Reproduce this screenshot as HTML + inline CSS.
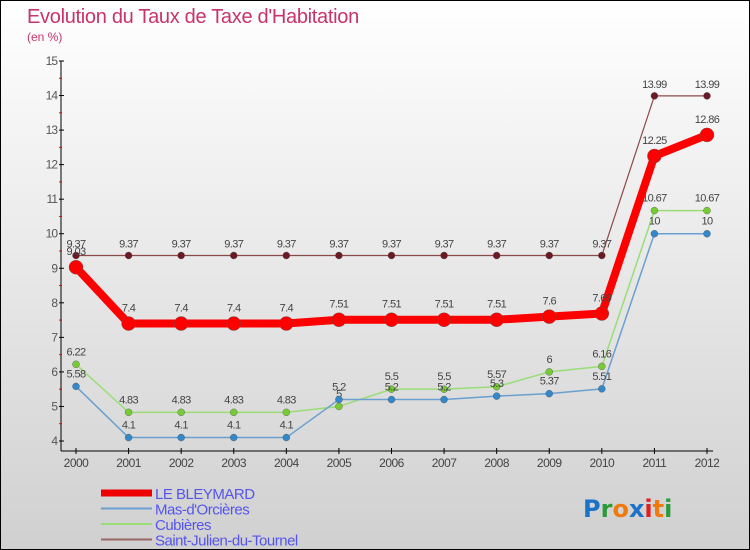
<!DOCTYPE html>
<html><head><meta charset="utf-8"><style>
body{margin:0;}
#wrap{width:750px;height:550px;position:relative;box-sizing:border-box;border:1px solid #000;background:linear-gradient(#ffffff,#d0d0d0);font-family:"Liberation Sans",sans-serif;overflow:hidden}
#title{position:absolute;left:26px;top:5px;font-size:20px;color:#c8336a;letter-spacing:-0.3px}
#unit{position:absolute;left:26px;top:29px;font-size:12px;color:#c8336a}
</style></head><body>
<div id="wrap">
<div id="title">Evolution du Taux de Taxe d'Habitation</div>
<div id="unit">(en %)</div>
<svg id="svg" width="750" height="550" style="position:absolute;left:0;top:0"></svg>
</div>
<script>
const years=["2000","2001","2002","2003","2004","2005","2006","2007","2008","2009","2010","2011","2012"];
const yTicks=[4,5,6,7,8,9,10,11,12,13,14,15];
const bleymard=[9.03,7.4,7.4,7.4,7.4,7.51,7.51,7.51,7.51,7.6,7.69,12.25,12.86];
const mas=[5.58,4.1,4.1,4.1,4.1,5.2,5.2,5.2,5.3,5.37,5.51,10,10];
const cubieres=[6.22,4.83,4.83,4.83,4.83,5,5.5,5.5,5.57,6,6.16,10.67,10.67];
const stjulien=[9.37,9.37,9.37,9.37,9.37,9.37,9.37,9.37,9.37,9.37,9.37,13.99,13.99];
const seriesNames=["LE BLEYMARD","Mas-d'Orcières","Cubières","Saint-Julien-du-Tournel"];

const svg=document.getElementById('svg');const NS='http://www.w3.org/2000/svg';
function X(i){return 75+i*(706-75)/(years.length-1);}
function Y(v){return 440-(v-4)*(380/11);}
function el(t,a,p){const e=document.createElementNS(NS,t);for(const k in a)e.setAttribute(k,a[k]);(p||svg).appendChild(e);return e;}
// axes
let ax=el('line',{x1:60,y1:60,x2:60,y2:450,stroke:'#000','stroke-width':1});

let axx=el('line',{x1:60,y1:450,x2:712,y2:450,stroke:'#000','stroke-width':1});

yTicks.forEach(v=>{const y=Y(v);
 el('line',{x1:58,y1:y,x2:63,y2:y,stroke:'#000'});
 if(v<15)el('line',{x1:58,y1:Y(v+0.5),x2:61,y2:Y(v+0.5),stroke:'#e00'});
 const t=el('text',{x:56,y:y+4,'text-anchor':'end','font-size':12,fill:'#555','letter-spacing':'-1'});t.textContent=v;
 });
years.forEach((yr,i)=>{const x=X(i);
 el('line',{x1:x,y1:447,x2:x,y2:453,stroke:'#000'});
 const t=el('text',{x:x,y:466,'text-anchor':'middle','font-size':12,fill:'#444','letter-spacing':'-0.5'});t.textContent=yr;
 });
function series(data,color,w,r,dot,name,labelDy){
 const g=el('g',{});
 el('polyline',{points:data.map((v,i)=>X(i)+','+Y(v)).join(' '),fill:'none',stroke:color,'stroke-width':w,'stroke-linejoin':'round'},g);
 data.forEach((v,i)=>{const c=el('circle',{cx:X(i),cy:Y(v),r:r,fill:dot,stroke:'#555','stroke-width':0.4},g);
  
  const t=el('text',{x:X(i),y:Y(v)+labelDy,'text-anchor':'middle','font-size':11,fill:'#444','letter-spacing':'-0.6'},g);t.textContent=v;});
}
series(stjulien,'#8b4a4a',1.2,3.5,'#6b1a24','series-saint-julien',-8);
series(cubieres,'#99dd77',1.5,3.5,'#77cc33','series-cubieres',-9);
series(mas,'#6a9fd0',1.5,3.5,'#3388cc','series-mas-dorcieres',-9);
series(bleymard,'#ff0000',8,7,'#ff0000','series-le-bleymard',-12);
// legend
const lg=el('g',{});
const lc=[['#ee0000',7],['#6a9fd0',2],['#99dd77',2],['#9b6666',2]];
seriesNames.forEach((n,i)=>{const y=492+i*15.5;
 el('line',{x1:100,y1:y,x2:151,y2:y,stroke:lc[i][0],'stroke-width':lc[i][1]},lg);
 const t=el('text',{x:154,y:y+6,'font-size':15,fill:'#5555ee','letter-spacing':'-0.5'},lg);t.textContent=n;
 });
// logo
const lo=el('text',{x:582,y:516,'font-size':24,'font-family':'DejaVu Sans, sans-serif','font-weight':'bold'});

[['P','#1a73c9'],['r','#2a9a3a'],['o','#f07a10'],['x','#1a73c9'],['i','#e02020'],['t','#f07a10'],['i','#2a9a3a']].forEach(([c,f])=>{const s=el('tspan',{fill:f},lo);s.textContent=c;});
</script>
</body></html>
